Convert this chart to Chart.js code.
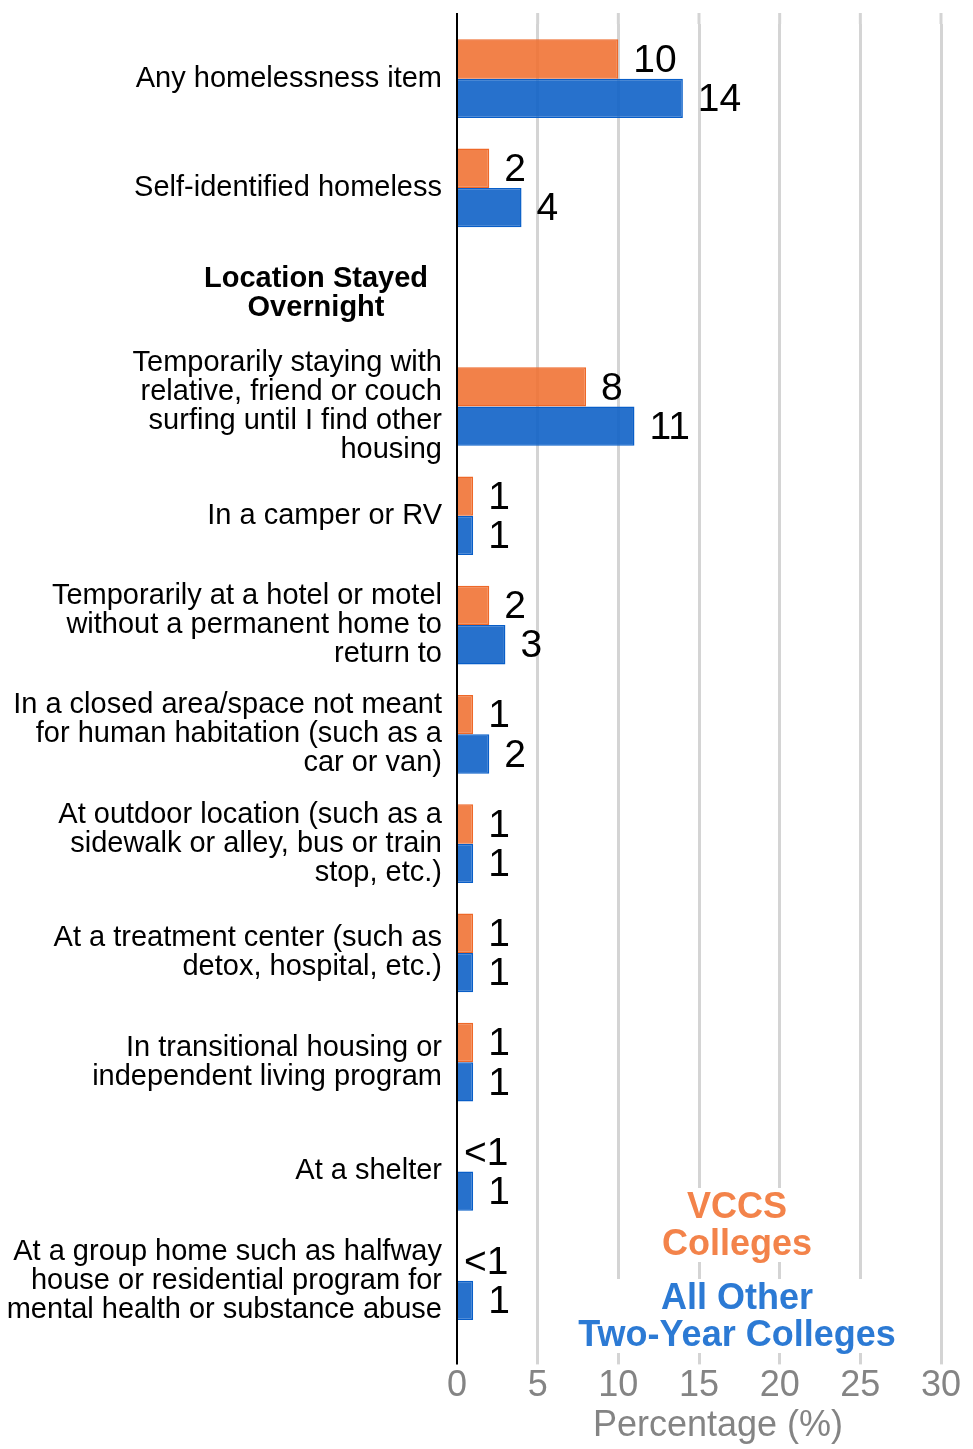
<!DOCTYPE html>
<html>
<head>
<meta charset="utf-8">
<script src="https://cdn.jsdelivr.net/npm/chart.js@4/dist/chart.umd.min.js"></script>
<style>
  html, body { margin: 0; padding: 0; background: #fff; }
  #wrap { width: 973px; height: 1449px; position: relative; }
</style>
</head>
<body>
<div id="wrap"><canvas id="c" width="973" height="1449"></canvas></div>
<script>
const categories = [
  "Any homelessness item",
  "Self-identified homeless",
  ["Location Stayed", "Overnight"],
  ["Temporarily staying with", "relative, friend or couch", "surfing until I find other", "housing"],
  "In a camper or RV",
  ["Temporarily at a hotel or motel", "without a permanent home to", "return to"],
  ["In a closed area/space not meant", "for human habitation (such as a", "car or van)"],
  ["At outdoor location (such as a", "sidewalk or alley, bus or train", "stop, etc.)"],
  ["At a treatment center (such as", "detox, hospital, etc.)"],
  ["In transitional housing or", "independent living program"],
  "At a shelter",
  ["At a group home such as halfway", "house or residential program for", "mental health or substance abuse"]
];
const headerIndex = 2;

const vccsValues = [10, 2, null, 8, 1, 2, 1, 1, 1, 1, 0, 0];
const vccsLabels = ["10", "2", "", "8", "1", "2", "1", "1", "1", "1", "<1", "<1"];
const otherValues = [14, 4, null, 11, 1, 3, 2, 1, 1, 1, 1, 1];
const otherLabels = ["14", "4", "", "11", "1", "3", "2", "1", "1", "1", "1", "1"];

const seriesNames = ["VCCS Colleges", "All Other Two-Year Colleges"];
const legendLines = [["VCCS", "Colleges"], ["All Other", "Two-Year Colleges"]];

const xTickValues = [0, 5, 10, 15, 20, 25, 30];
const xTitle = "Percentage (%)";

const ORANGE_FILL = "rgba(240,112,48,0.88)";
const ORANGE_BORDER = "rgb(238,104,40)";
const BLUE_FILL = "rgba(16,98,198,0.90)";
const BLUE_BORDER = "rgb(8,94,200)";
const ORANGE_TEXT = "rgb(243,131,74)";
const BLUE_TEXT = "rgb(44,122,212)";
const GRID = "rgb(212,212,212)";
const AXIS_GRAY = "rgb(132,132,132)";
const FONT = "'Liberation Sans', Arial, Helvetica, sans-serif";

const valueLabelsPlugin = {
  id: "valueLabels",
  afterDatasetsDraw(chart) {
    const ctx = chart.ctx;
    const labelSets = [vccsLabels, otherLabels];
    ctx.save();
    ctx.font = "39px " + FONT;
    ctx.fillStyle = "#000";
    ctx.textAlign = "left";
    ctx.textBaseline = "middle";
    chart.data.datasets.forEach((ds, di) => {
      const meta = chart.getDatasetMeta(di);
      meta.data.forEach((el, i) => {
        const txt = labelSets[di][i];
        if (!txt) return;
        const off = ds.data[i] === 0 ? 7 : 15;
        ctx.fillText(txt, el.x + off, el.y + 2);
      });
    });
    ctx.restore();
  }
};

const decorPlugin = {
  id: "decor",
  beforeDatasetsDraw(chart) {
    const ctx = chart.ctx;
    const xs = chart.scales.x;
    const top = chart.chartArea.top;
    ctx.save();
    xTickValues.forEach(v => {
      const px = xs.getPixelForValue(v);
      ctx.beginPath();
      ctx.strokeStyle = v === 0 ? "#000" : GRID;
      ctx.lineWidth = v === 0 ? 2 : 3;
      ctx.moveTo(px, 13);
      ctx.lineTo(px, top);
      ctx.stroke();
    });
    ctx.restore();
  },
  afterDraw(chart) {
    const ctx = chart.ctx;
    const ys = chart.scales.y;
    const xs = chart.scales.x;
    ctx.save();
    // Header row label (bold, centered)
    ctx.font = "bold 29px " + FONT;
    ctx.fillStyle = "#000";
    ctx.textAlign = "center";
    ctx.textBaseline = "middle";
    const hy = ys.getPixelForValue(headerIndex);
    const hl = categories[headerIndex];
    const lh = 29;
    hl.forEach((line, k) => {
      ctx.fillText(line, 316, hy - 4 + (k - (hl.length - 1) / 2) * lh);
    });
    // X axis title (shifted right like the original)
    ctx.font = "36px " + FONT;
    ctx.fillStyle = AXIS_GRAY;
    ctx.fillText(xTitle, (xs.left + chart.width) / 2 + 3, 1426);
    // Legend block with white backgrounds
    ctx.font = "bold 36px " + FONT;
    const cx = 737;
    const startY = [1207, 1298];
    const colors = [ORANGE_TEXT, BLUE_TEXT];
    legendLines.forEach((lines, i) => {
      let w = 0;
      lines.forEach(l => { w = Math.max(w, ctx.measureText(l).width); });
      ctx.fillStyle = "#fff";
      ctx.fillRect(cx - w / 2 - 4, startY[i] - 19, w + 8, lines.length * 37);
      ctx.fillStyle = colors[i];
      lines.forEach((l, k) => ctx.fillText(l, cx, startY[i] + 1 + k * 37));
    });
    ctx.restore();
  }
};

new Chart(document.getElementById("c"), {
  type: "bar",
  data: {
    labels: categories,
    datasets: [
      { label: seriesNames[0], data: vccsValues, backgroundColor: ORANGE_FILL, borderColor: ORANGE_BORDER, borderWidth: 1.5, categoryPercentage: 0.72, barPercentage: 1.0 },
      { label: seriesNames[1], data: otherValues, backgroundColor: BLUE_FILL, borderColor: BLUE_BORDER, borderWidth: 1.5, categoryPercentage: 0.72, barPercentage: 1.0 }
    ]
  },
  options: {
    indexAxis: "y",
    responsive: false,
    animation: false,
    devicePixelRatio: 1,
    layout: { padding: { top: 24, right: 32, bottom: 0, left: 0 } },
    plugins: { legend: { display: false }, tooltip: { enabled: false } },
    scales: {
      y: {
        type: "category",
        offset: true,
        grid: { display: false, drawTicks: false },
        border: { display: true, color: "#000", width: 2 },
        afterFit(scale) { scale.width = 457; scale.paddingTop = 0; scale.paddingBottom = 0; },
        ticks: {
          padding: 15,
          color: "#000",
          autoSkip: false,
          font: { family: FONT, size: 29, lineHeight: 1.0 },
          callback(value, index) { return index === headerIndex ? "" : categories[index]; }
        }
      },
      x: {
        type: "linear",
        min: 0,
        max: 30,
        afterBuildTicks(scale) { scale.ticks = xTickValues.map(v => ({ value: v })); },
        grid: {
          color: ctx => (ctx.tick && ctx.tick.value === 0) ? "#000" : GRID,
          lineWidth: ctx => (ctx.tick && ctx.tick.value === 0) ? 2 : 3,
          tickLength: 29,
          tickColor: ctx => (ctx.tick && ctx.tick.value === 0) ? "#000" : GRID,
          tickWidth: ctx => (ctx.tick && ctx.tick.value === 0) ? 2 : 3
        },
        border: { display: false },
        ticks: {
          padding: 3,
          color: AXIS_GRAY,
          font: { family: FONT, size: 36, lineHeight: 1.05 }
        },
        title: {
          display: true,
          text: xTitle,
          color: "rgba(0,0,0,0)",
          font: { family: FONT, size: 36, lineHeight: 1.05 },
          padding: { top: 0, bottom: 3 }
        }
      }
    }
  },
  plugins: [decorPlugin, valueLabelsPlugin]
});
</script>
</body>
</html>
